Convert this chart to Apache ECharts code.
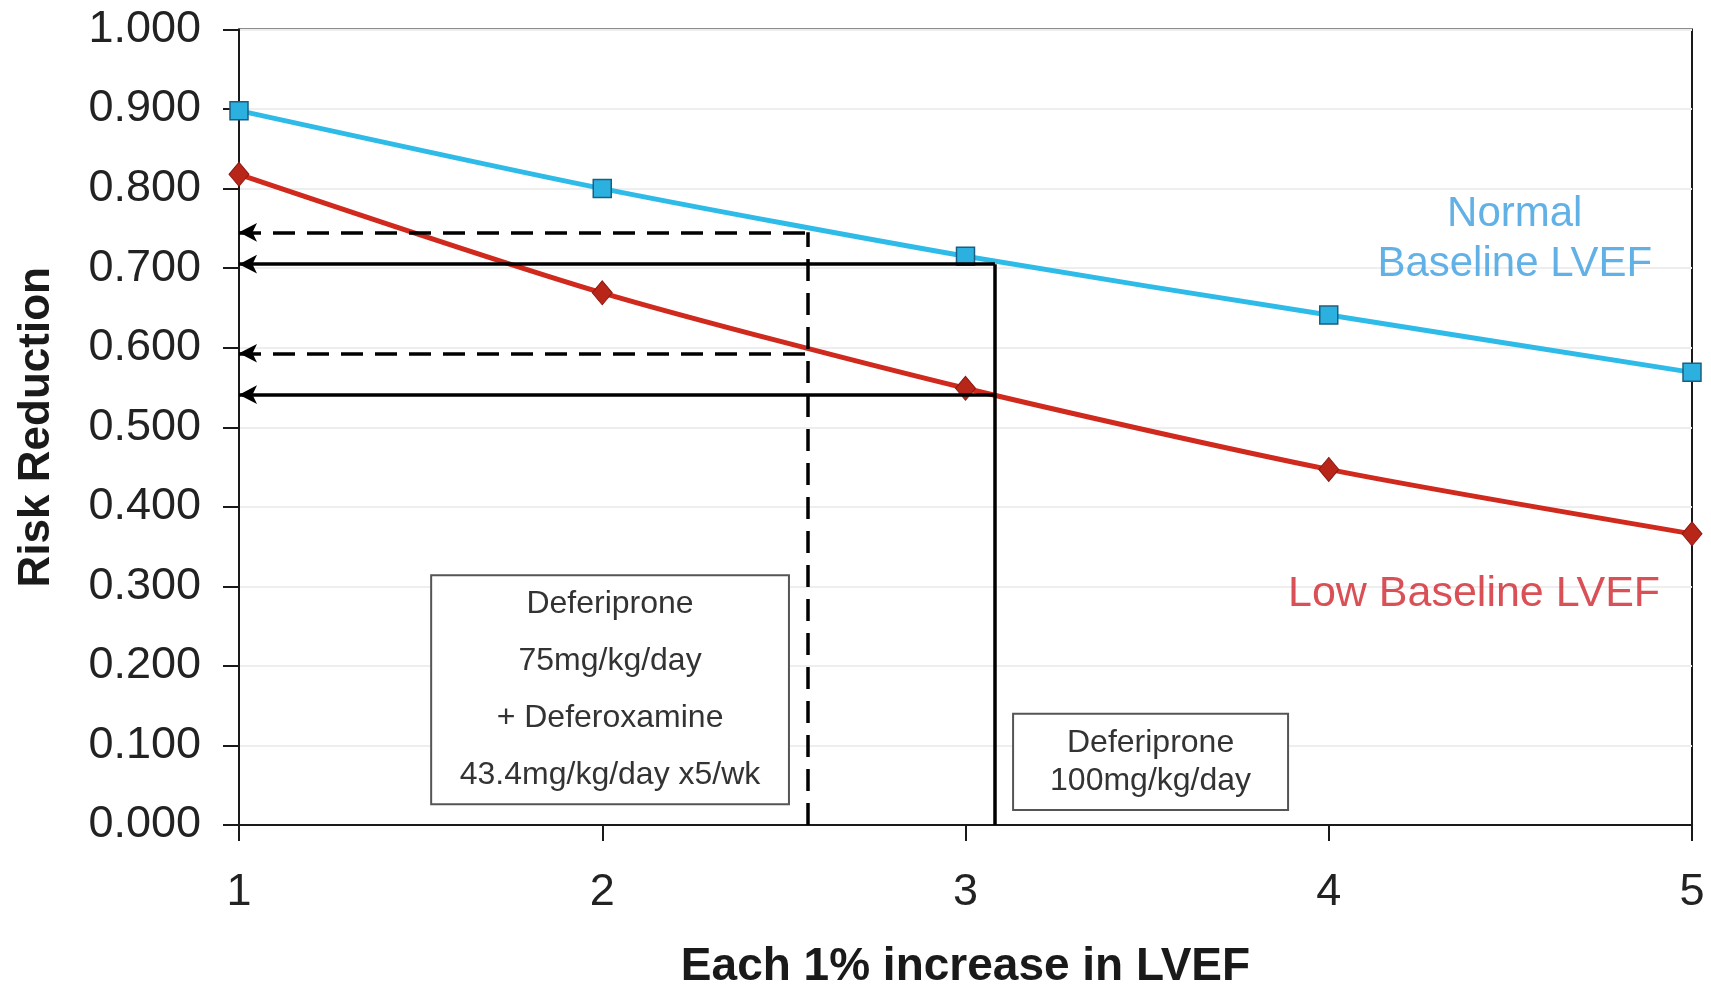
<!DOCTYPE html>
<html>
<head>
<meta charset="utf-8">
<script src="https://cdn.jsdelivr.net/npm/echarts@6/dist/echarts.min.js"></script>
<style>
html,body{margin:0;padding:0;background:#fff;}
#chart{width:1711px;height:985px;}
</style>
</head>
<body>
<div id="chart"></div>
<script>
// ---- data ----
const xValues = [1, 2, 3, 4, 5];
const normalBaseline = [0.898, 0.800, 0.715, 0.641, 0.569];
const lowBaseline = [0.818, 0.669, 0.549, 0.447, 0.366];
const yTicks = [0, 0.1, 0.2, 0.3, 0.4, 0.5, 0.6, 0.7, 0.8, 0.9, 1.0];

// reference guide lines (x, y values)
const comboX = 2.565;          // Deferiprone + Deferoxamine
const comboY = [0.745, 0.593];
const monoX = 3.081;           // Deferiprone 100 mg/kg/day
const monoY = [0.705, 0.541];

const seriesNames = ['Normal Baseline LVEF', 'Low Baseline LVEF'];
const box1Lines = ['Deferiprone', '75mg/kg/day', '+ Deferoxamine', '43.4mg/kg/day x5/wk'];
const box2Lines = ['Deferiprone', '100mg/kg/day'];

const FONT = '"Liberation Sans", Arial, sans-serif';

const chart = echarts.init(document.getElementById('chart'), null, {renderer: 'canvas'});

function pairs(xs, ys) { return xs.map((x, i) => [x, ys[i]]); }

const DASH = [22, 12];
const arrowLines = [];
comboY.forEach(y => arrowLines.push([{coord: [1, y], lineStyle: {type: DASH}}, {coord: [comboX, y]}]));
monoY.forEach(y => arrowLines.push([{coord: [1, y], lineStyle: {type: 'solid'}}, {coord: [monoX, y]}]));
const vertLines = [
  [{coord: [comboX, 0], lineStyle: {type: DASH}}, {coord: [comboX, comboY[0]]}],
  [{coord: [monoX, 0], lineStyle: {type: 'solid'}}, {coord: [monoX, monoY[0]]}]
];

const option = {
  backgroundColor: '#ffffff',
  animation: false,
  grid: {left: 239, right: 19, top: 29.5, bottom: 160, outerBoundsMode: 'none', containLabel: false,
    show: true, borderColor: '#1a1a1a', borderWidth: 2, backgroundColor: 'transparent'},
  xAxis: {
    type: 'value', min: 1, max: 5, interval: 1,
    name: 'Each 1% increase in LVEF', nameLocation: 'middle', nameGap: 119,
    nameTextStyle: {fontFamily: FONT, fontSize: 46, fontWeight: 'bold', color: '#1a1a1a'},
    axisLine: {show: true, onZero: false, lineStyle: {color: '#1a1a1a', width: 2}},
    axisTick: {show: true, inside: false, length: 16, lineStyle: {color: '#1a1a1a', width: 2}},
    axisLabel: {fontFamily: FONT, fontSize: 45, color: '#222', margin: 45},
    splitLine: {show: false}
  },
  yAxis: {
    type: 'value', min: 0, max: 1, interval: 0.1,
    name: 'Risk Reduction', nameLocation: 'middle', nameGap: 180,
    nameTextStyle: {fontFamily: FONT, fontSize: 44, fontWeight: 'bold', color: '#1a1a1a'},
    axisLine: {show: true, lineStyle: {color: '#1a1a1a', width: 2}},
    axisTick: {show: true, length: 16, lineStyle: {color: '#1a1a1a', width: 2}},
    axisLabel: {fontFamily: FONT, fontSize: 45, color: '#222', margin: 38,
      formatter: v => yTicks.some(t => Math.abs(t - v) < 1e-9) ? v.toFixed(3) : ''},
    splitLine: {show: true, lineStyle: {color: '#eeeeee', width: 2}}
  },
  series: [
    {
      name: 'boxes', type: 'line', data: [], silent: true,
      markArea: {
        silent: true,
        itemStyle: {color: '#ffffff', borderColor: '#555555', borderWidth: 2},
        label: {show: true, position: 'inside', fontFamily: FONT, color: '#333', fontSize: 32},
        data: [
          [{coord: [1.529, 0.314], label: {formatter: box1Lines.join('\n'), lineHeight: 57}}, {coord: [2.514, 0.026]}],
          [{coord: [3.131, 0.140], label: {formatter: box2Lines.join('\n'), lineHeight: 38}}, {coord: [3.888, 0.019]}]
        ]
      }
    },
    {
      name: seriesNames[0], type: 'line', data: pairs(xValues, normalBaseline),
      smooth: 0.25, symbol: 'rect', symbolSize: 18, z: 4,
      lineStyle: {color: '#2fbbe8', width: 5},
      itemStyle: {color: '#2bb0e0', borderColor: '#1b5f80', borderWidth: 1.5}
    },
    {
      name: seriesNames[1], type: 'line', data: pairs(xValues, lowBaseline),
      smooth: 0.25, symbol: 'diamond', symbolSize: [20, 24], z: 4,
      lineStyle: {color: '#d02a1e', width: 5},
      itemStyle: {color: '#b8261a', borderColor: '#8a1a12', borderWidth: 1}
    },
    {
      name: 'guides', type: 'line', data: [], silent: true, z: 3,
      markLine: {
        silent: true, animation: false,
        symbol: ['arrow', 'none'], symbolSize: [14, 18],
        label: {show: false},
        lineStyle: {color: '#000000', width: 3.5},
        data: arrowLines
      }
    },
    {
      name: 'guidesV', type: 'line', data: [], silent: true, z: 3,
      markLine: {
        silent: true, animation: false,
        symbol: ['none', 'none'],
        label: {show: false},
        lineStyle: {color: '#000000', width: 3.5},
        data: vertLines
      }
    },
    {
      name: 'labels', type: 'scatter', symbolSize: 0, silent: true, z: 5,
      data: [
        {value: [4.512, 0.736], label: {show: true, position: 'inside', formatter: 'Normal\nBaseline LVEF', color: '#3a9ee0', fontSize: 42, lineHeight: 50, fontFamily: FONT}},
        {value: [4.4, 0.290], label: {show: true, position: 'inside', formatter: seriesNames[1], color: '#d0242c', fontSize: 43, fontFamily: FONT}}
      ]
    }
  ]
};
chart.setOption(option);
</script>
</body>
</html>
